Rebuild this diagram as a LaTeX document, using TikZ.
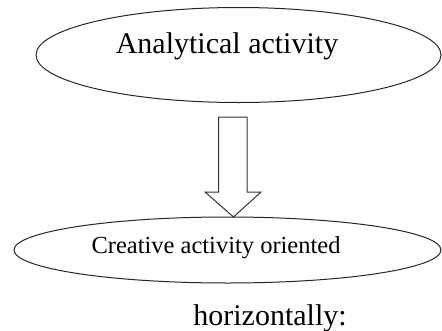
\documentclass[tikz,border=0pt]{standalone}
\usepackage{fontspec}
\newfontfamily\timesface{Liberation Serif}
\usetikzlibrary{shapes.geometric}
\begin{document}
\begin{tikzpicture}[x=1pt,y=-1pt,
  oval/.style={draw=black!85, line width=1pt, ellipse, inner sep=0pt},
  caption/.style={anchor=base, inner sep=0pt},
  blockarrow/.style={draw=black!80, line width=1pt, line join=miter}]
  \useasboundingbox (0,0) rectangle (442,330);
  % upper oval
  \node[oval, minimum width=405, minimum height=95] (analytical) at (238.5,55) {};
  \node[caption, font=\timesface\fontsize{30}{32}\selectfont] (analyticaltext) at (227,53) {Analytical activity};
  % lower oval
  \node[oval, minimum width=427, minimum height=66] (creative) at (227.5,250) {};
  \node[caption, font=\timesface\fontsize{24.5}{27}\selectfont] (creativetext) at (216,253) {Creative activity oriented};
  % hollow block arrow between the ovals
  \coordinate (tip) at (233.5,217);
  \draw[blockarrow] (218.5,117) -- (247,117) -- (247,192) -- (261,192) -- (tip)
    -- (205,192) -- (218.5,192) -- cycle;
  % trailing caption
  \node[caption, font=\timesface\fontsize{30}{32}\selectfont] (horiz) at (270,325) {horizontally:};
\end{tikzpicture}
\end{document}
